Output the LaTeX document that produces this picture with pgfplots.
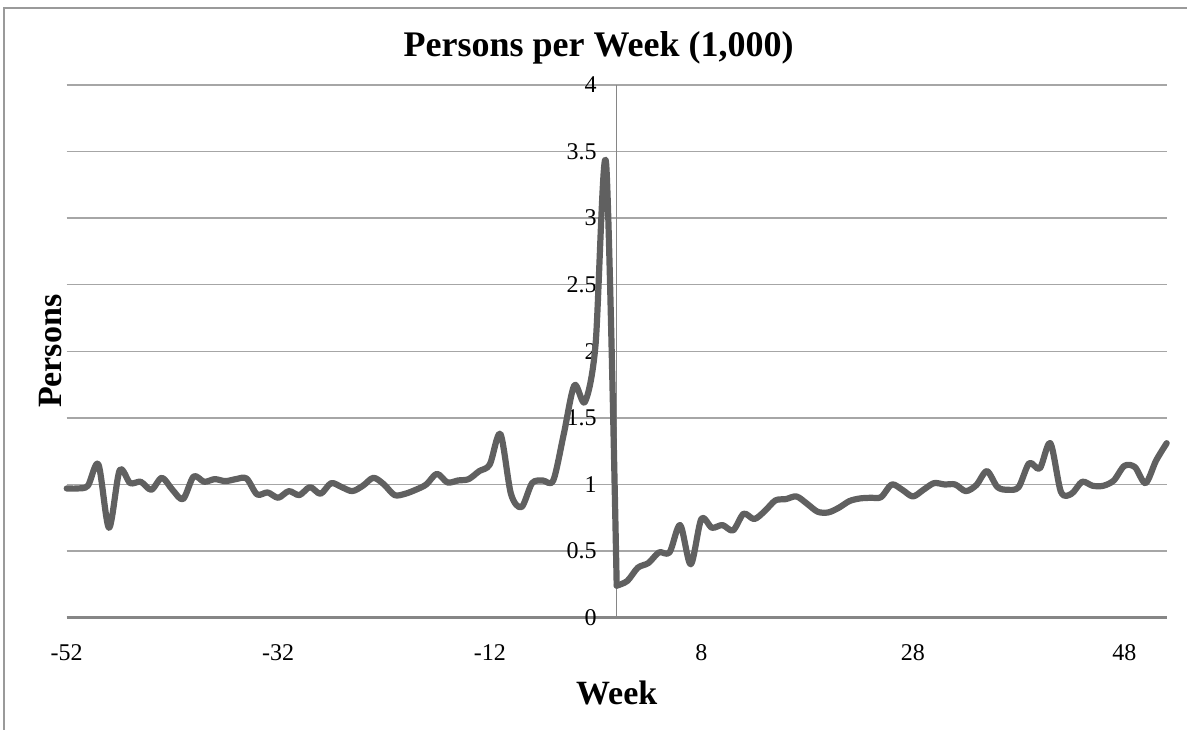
\documentclass[border=0pt]{standalone}
\usepackage{fontspec}
\setmainfont{Liberation Serif}
\usepackage{pgfplots}
\pgfplotsset{compat=1.18}
\usepackage{pgfplotstable}

\definecolor{linegray}{HTML}{606060}
\definecolor{gridgray}{HTML}{A6A6A6}
\definecolor{axisgray}{HTML}{868686}
\definecolor{framegray}{HTML}{9A9A9A}

% weekly persons (thousands), weeks -52 .. 52
\pgfplotstableread{
week persons
-52 0.97
-51 0.97
-50 0.99
-49 1.15
-48 0.675
-47 1.105
-46 1.01
-45 1.02
-44 0.96
-43 1.05
-42 0.96
-41 0.89
-40 1.06
-39 1.02
-38 1.04
-37 1.025
-36 1.04
-35 1.045
-34 0.925
-33 0.94
-32 0.90
-31 0.95
-30 0.92
-29 0.98
-28 0.93
-27 1.01
-26 0.98
-25 0.95
-24 0.99
-23 1.05
-22 1.00
-21 0.92
-20 0.93
-19 0.96
-18 1.00
-17 1.08
-16 1.015
-15 1.03
-14 1.04
-13 1.10
-12 1.15
-11 1.38
-10 0.93
-9 0.83
-8 1.01
-7 1.03
-6 1.03
-5 1.38
-4 1.745
-3 1.62
-2 2.05
-1 3.41
0 0.24
1 0.275
2 0.375
3 0.41
4 0.49
5 0.49
6 0.695
7 0.40
8 0.74
9 0.675
10 0.695
11 0.655
12 0.78
13 0.74
14 0.80
15 0.88
16 0.89
17 0.91
18 0.855
19 0.795
20 0.79
21 0.825
22 0.875
23 0.895
24 0.90
25 0.905
26 1.00
27 0.96
28 0.91
29 0.96
30 1.01
31 1.00
32 1.00
33 0.95
34 0.995
35 1.10
36 0.98
37 0.96
38 0.98
39 1.16
40 1.12
41 1.31
42 0.945
43 0.93
44 1.02
45 0.99
46 0.99
47 1.03
48 1.14
49 1.13
50 1.01
51 1.18
52 1.31
}\weekdata

\tikzset{personsline/.style={linegray, line width=3.1pt, smooth,
    tension=0.5, line join=round, line cap=round}}

\begin{document}
\begin{tikzpicture}
\useasboundingbox (0,0) rectangle (593.5pt,364.5pt);
% chart area frame
\draw[framegray, line width=0.75pt] (2pt,-20pt) rectangle (620pt,360.5pt);
\begin{axis}[
  at={(33.35pt,55.7pt)}, anchor=south west,
  scale only axis, width=550pt, height=266.3pt,
  xmin=-52, xmax=52, ymin=0, ymax=4,
  axis x line=bottom, axis y line=center,
  axis line style={-},
  x axis line style={axisgray, line width=1.2pt},
  y axis line style={axisgray, line width=0.75pt},
  hide obscured x ticks=false, hide obscured y ticks=false,
  major tick length=0pt,
  xtick={-52,-32,-12,8,28,48},
  xticklabels={-52,-32,-12,8,28,48},
  ytick={0,0.5,...,4},
  ymajorgrids,
  major grid style={gridgray, line width=0.75pt},
  /pgf/number format/assume math mode=true,
  ticklabel style={font=\fontsize{12}{14}\selectfont},
  xticklabel style={anchor=base, yshift=-21.2pt},
  yticklabel style={anchor=east, xshift=-6.5pt},
  title={Persons per Week (1,000)},
  title style={font=\fontsize{18}{21}\bfseries, anchor=base,
    at={(rel axis cs:0.4836,1)}, yshift=8.5pt},
  xlabel={Week},
  xlabel style={font=\fontsize{17}{20}\bfseries, anchor=base,
    at={(rel axis cs:0.5,-0.164)}},
  ylabel={Persons},
  ylabel style={font=\fontsize{17}{20}\bfseries, anchor=center, rotate=90,
    at={(rel axis cs:-0.0145,0.5)}},
  clip=false,
]
% the series is smoothed on each side of the week-0 break
\addplot[personsline, restrict x to domain=-52:0]
  table[x=week, y=persons] {\weekdata};
\addplot[personsline, restrict x to domain=0:52]
  table[x=week, y=persons] {\weekdata};
\end{axis}
\end{tikzpicture}
\end{document}
